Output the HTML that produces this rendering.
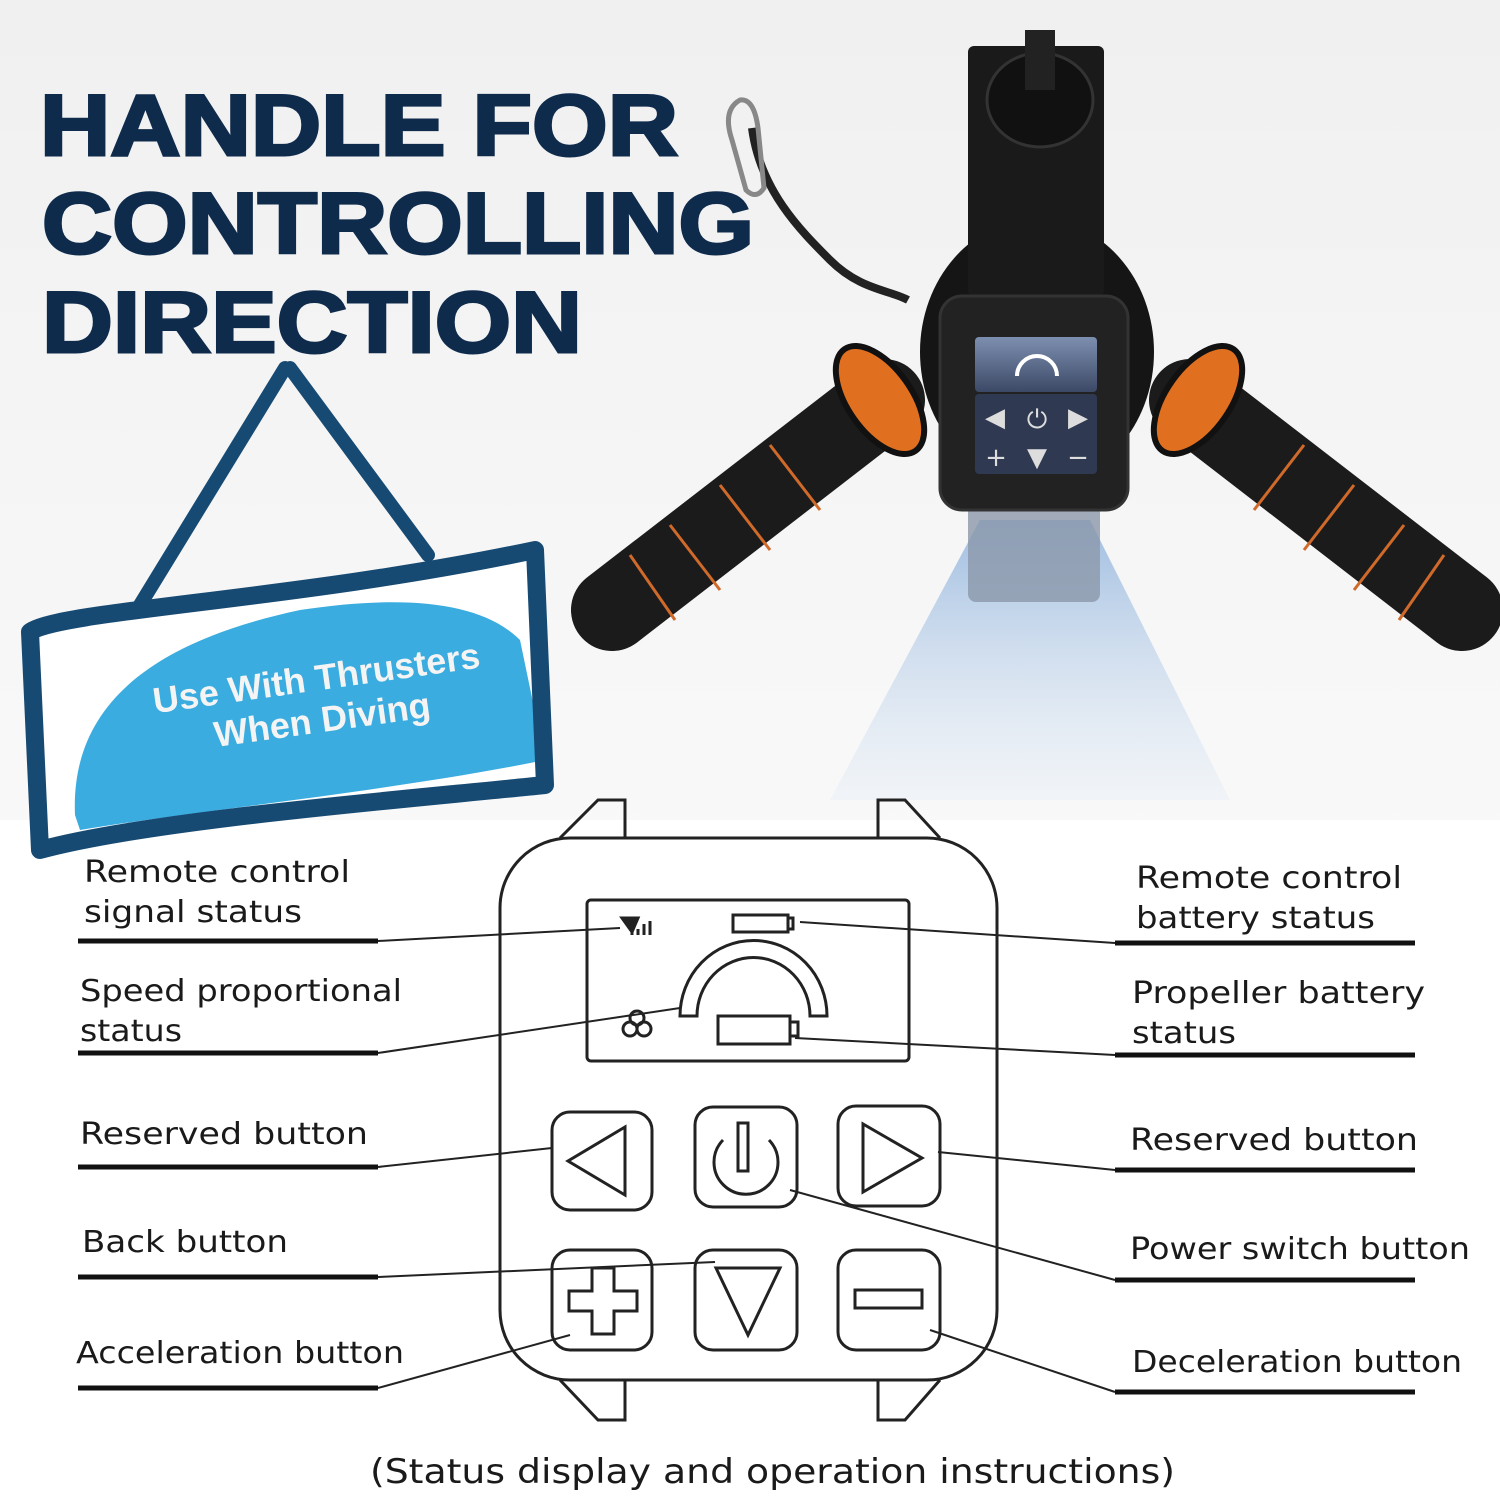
<!DOCTYPE html>
<html><head><meta charset="utf-8"><style>
html,body{margin:0;padding:0;background:#fff}
svg{display:block}
</style></head><body>
<svg width="1500" height="1497" viewBox="0 0 1500 1497" xmlns="http://www.w3.org/2000/svg">
<defs>
<linearGradient id="bg" x1="0" y1="0" x2="0" y2="1">
<stop offset="0" stop-color="#f0f0f0"/><stop offset="0.5" stop-color="#f8f8f8"/><stop offset="1" stop-color="#ffffff"/>
</linearGradient>
<linearGradient id="beam" x1="0" y1="0" x2="0" y2="1">
<stop offset="0" stop-color="#9fbde0"/><stop offset="1" stop-color="#dfe9f5" stop-opacity="0.3"/>
</linearGradient>
<linearGradient id="scr" x1="0" y1="0" x2="0" y2="1">
<stop offset="0" stop-color="#7d8fb0"/><stop offset="1" stop-color="#3c4966"/>
</linearGradient>
</defs>
<rect width="1500" height="1497" fill="url(#bg)"/>
<rect y="820" width="1500" height="677" fill="#fff"/>

<!-- title -->
<g font-family="Liberation Sans, sans-serif" font-weight="900" font-size="86" fill="#0f2b4c" stroke="#0f2b4c" stroke-width="3">
<text x="40" y="155" textLength="638" lengthAdjust="spacingAndGlyphs">HANDLE FOR</text>
<text x="42" y="253" textLength="712" lengthAdjust="spacingAndGlyphs">CONTROLLING</text>
<text x="42" y="352" textLength="540" lengthAdjust="spacingAndGlyphs">DIRECTION</text>
</g>

<!-- beam -->
<polygon points="980,520 1090,520 1230,800 830,800" fill="url(#beam)"/>

<!-- lanyard -->
<path d="M752,128 C760,190 800,230 830,260 C860,290 890,290 908,300" stroke="#222" stroke-width="8" fill="none"/>
<path d="M740,100 q-18,10 -8,40 l14,50 q10,10 18,-2 l-6,-60 q-4,-30 -18,-28z" fill="none" stroke="#888" stroke-width="5"/>

<!-- grips -->
<g stroke-linecap="round">
<line x1="884" y1="400" x2="612" y2="610" stroke="#1b1b1b" stroke-width="82"/>
<line x1="1190" y1="400" x2="1462" y2="610" stroke="#1b1b1b" stroke-width="82"/>
</g>
<g stroke="#d06a2a" stroke-width="3" fill="none">
<line x1="770" y1="445" x2="820" y2="510"/><line x1="720" y1="485" x2="770" y2="550"/><line x1="670" y1="525" x2="720" y2="590"/><line x1="630" y1="555" x2="675" y2="620"/>
<line x1="1304" y1="445" x2="1254" y2="510"/><line x1="1354" y1="485" x2="1304" y2="550"/><line x1="1404" y1="525" x2="1354" y2="590"/><line x1="1444" y1="555" x2="1399" y2="620"/>
</g>
<ellipse cx="880" cy="400" rx="32" ry="62" transform="rotate(-35 880 400)" fill="#e07020" stroke="#111" stroke-width="6"/>
<ellipse cx="1198" cy="400" rx="32" ry="62" transform="rotate(35 1198 400)" fill="#e07020" stroke="#111" stroke-width="6"/>

<!-- device -->
<rect x="968" y="505" width="132" height="97" rx="8" fill="#8b97aa" opacity="0.8"/>
<ellipse cx="1037" cy="352" rx="117" ry="133" fill="#151515"/>
<rect x="968" y="46" width="136" height="250" rx="6" fill="#1a1a1a"/>
<ellipse cx="1040" cy="100" rx="53" ry="47" fill="#111" stroke="#333" stroke-width="3"/>
<rect x="1025" y="30" width="30" height="60" fill="#222"/>
<rect x="940" y="296" width="188" height="214" rx="22" fill="#222" stroke="#333" stroke-width="3"/>
<rect x="975" y="337" width="122" height="55" rx="4" fill="url(#scr)"/>
<path d="M1017,376 a20,20 0 0 1 40,0" stroke="#fff" stroke-width="4" fill="none"/>
<rect x="975" y="394" width="122" height="80" rx="4" fill="#2f3a52"/>
<g fill="#ddd" font-family="DejaVu Sans, sans-serif" font-size="26" text-anchor="middle">
<text x="995" y="426">◀</text><text x="1037" y="428">⏻</text><text x="1078" y="426">▶</text>
<text x="996" y="466">+</text><text x="1037" y="466">▼</text><text x="1078" y="466">−</text>
</g>

<!-- sign -->
<g fill="none" stroke="#174a73" stroke-linecap="round">
<path d="M285,368 L140,605" stroke-width="14"/>
<path d="M290,368 L428,555" stroke-width="14"/>
</g>
<path d="M30,632 C60,610 300,600 535,550 L545,785 C400,800 150,820 40,850 Z" fill="#fff"/>
<path d="M75,815 C70,700 160,640 300,610 C400,595 480,600 520,640 L545,760 C400,790 200,810 80,830Z" fill="#3aacdf"/>
<path d="M30,632 C60,610 300,600 535,550 L545,785 C400,800 150,820 40,850 Z" fill="none" stroke="#174a73" stroke-width="18" stroke-linejoin="round"/>
<g font-family="Liberation Sans, sans-serif" font-weight="900" font-size="36" fill="#f4f4f4" text-anchor="middle" transform="rotate(-8 320 690)">
<text x="318" y="690">Use With Thrusters</text>
<text x="318" y="732">When Diving</text>
</g>

<!-- watch diagram -->
<g fill="none" stroke="#222" stroke-width="3">
<path d="M560,838 L598,800 L625,800 L625,838"/>
<path d="M878,838 L878,800 L905,800 L940,838"/>
<path d="M560,1380 L598,1420 L625,1420 L625,1380"/>
<path d="M878,1380 L878,1420 L905,1420 L940,1380"/>
<rect x="500" y="838" width="497" height="542" rx="70"/>
<rect x="587" y="900" width="322" height="161" rx="4"/>
<rect x="733" y="915" width="55" height="17"/>
<path d="M788,918 h5 v11 h-5"/>
<path d="M680,1016 a73,75 0 0 1 147,0 h-17 a56,58 0 0 0 -113,0 z"/>
<rect x="718" y="1016" width="72" height="28"/>
<path d="M790,1022 h8 v14 h-8"/>
<circle cx="637" cy="1018" r="7"/><circle cx="630" cy="1029" r="7"/><circle cx="644" cy="1029" r="7"/>
<rect x="552" y="1112" width="100" height="98" rx="18"/>
<rect x="695" y="1107" width="102" height="100" rx="18"/>
<rect x="838" y="1106" width="102" height="100" rx="18"/>
<rect x="552" y="1250" width="100" height="100" rx="18"/>
<rect x="695" y="1250" width="102" height="100" rx="18"/>
<rect x="838" y="1250" width="102" height="100" rx="18"/>
<path d="M625,1127 L625,1195 L568,1161 Z"/>
<path d="M863,1124 L863,1192 L922,1158 Z"/>
<path d="M716,1268 L780,1268 L748,1335 Z"/>
<path d="M723,1140 a32,32 0 1 0 46,0"/>
<rect x="738" y="1123" width="10" height="48"/>
<path d="M592,1268 h22 v23 h23 v20 h-23 v23 h-22 v-23 h-23 v-20 h23z"/>
<rect x="855" y="1290" width="67" height="18"/>
</g>
<path d="M622,918 l16,0 l-6,14z M632,925 v10 M638,929 v6 M644,924 v11 M650,921 v14" stroke="#222" stroke-width="3" fill="#222"/>

<!-- connectors -->
<g stroke="#222" stroke-width="2" fill="none">
<line x1="378" y1="941" x2="620" y2="928"/>
<line x1="378" y1="1053" x2="680" y2="1008"/>
<line x1="378" y1="1167" x2="552" y2="1148"/>
<line x1="378" y1="1277" x2="715" y2="1262"/>
<line x1="378" y1="1388" x2="570" y2="1335"/>
<line x1="1115" y1="943" x2="800" y2="922"/>
<line x1="1115" y1="1055" x2="795" y2="1038"/>
<line x1="1115" y1="1170" x2="938" y2="1152"/>
<line x1="1115" y1="1280" x2="790" y2="1190"/>
<line x1="1115" y1="1392" x2="930" y2="1330"/>
</g>
<g stroke="#111" stroke-width="5">
<line x1="78" y1="941" x2="378" y2="941"/><line x1="78" y1="1053" x2="378" y2="1053"/>
<line x1="78" y1="1167" x2="378" y2="1167"/><line x1="78" y1="1277" x2="378" y2="1277"/>
<line x1="78" y1="1388" x2="378" y2="1388"/>
<line x1="1115" y1="943" x2="1415" y2="943"/><line x1="1115" y1="1055" x2="1415" y2="1055"/>
<line x1="1115" y1="1170" x2="1415" y2="1170"/><line x1="1115" y1="1280" x2="1415" y2="1280"/>
<line x1="1115" y1="1392" x2="1415" y2="1392"/>
</g>
<g font-family="DejaVu Sans, sans-serif" font-size="30" fill="#1a1a1a" lengthAdjust="spacingAndGlyphs">
<text x="84" y="882" textLength="266" lengthAdjust="spacingAndGlyphs">Remote control</text><text x="84" y="922" textLength="218" lengthAdjust="spacingAndGlyphs">signal status</text>
<text x="80" y="1001" textLength="322" lengthAdjust="spacingAndGlyphs">Speed proportional</text><text x="80" y="1041" textLength="102" lengthAdjust="spacingAndGlyphs">status</text>
<text x="80" y="1144" textLength="288" lengthAdjust="spacingAndGlyphs">Reserved button</text>
<text x="82" y="1252" textLength="206" lengthAdjust="spacingAndGlyphs">Back button</text>
<text x="76" y="1363" textLength="328" lengthAdjust="spacingAndGlyphs">Acceleration button</text>
<text x="1136" y="888" textLength="266" lengthAdjust="spacingAndGlyphs">Remote control</text><text x="1136" y="928" textLength="239" lengthAdjust="spacingAndGlyphs">battery status</text>
<text x="1132" y="1003" textLength="293" lengthAdjust="spacingAndGlyphs">Propeller battery</text><text x="1132" y="1043" textLength="104" lengthAdjust="spacingAndGlyphs">status</text>
<text x="1130" y="1150" textLength="288" lengthAdjust="spacingAndGlyphs">Reserved button</text>
<text x="1130" y="1259" textLength="340" lengthAdjust="spacingAndGlyphs">Power switch button</text>
<text x="1132" y="1372" textLength="330" lengthAdjust="spacingAndGlyphs">Deceleration button</text>
<text x="370" y="1483" font-size="34" textLength="805" lengthAdjust="spacingAndGlyphs">(Status display and operation instructions)</text>
</g>
</svg>
</body></html>
